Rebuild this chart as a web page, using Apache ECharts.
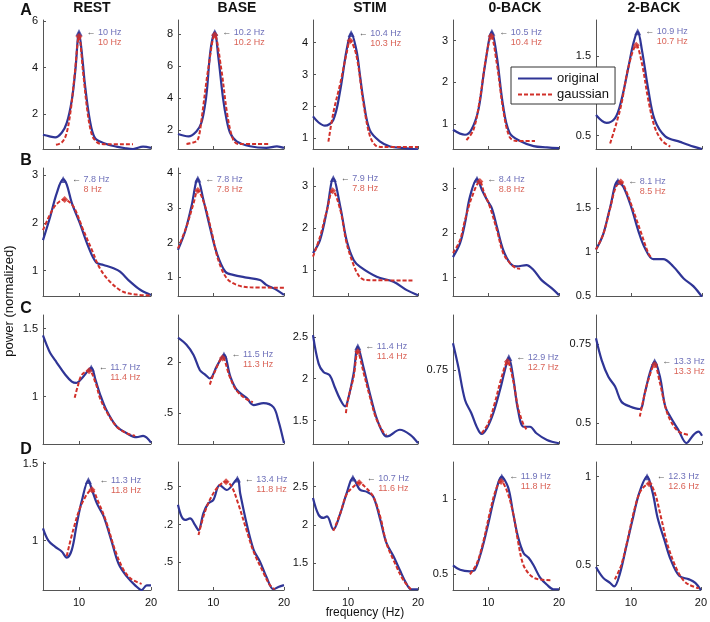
<!DOCTYPE html>
<html><head><meta charset="utf-8">
<script src="https://cdn.jsdelivr.net/npm/echarts@6/dist/echarts.min.js"></script>
<style>html,body{margin:0;padding:0;background:#fff}#c{width:710px;height:622px}</style>
</head><body><div id="c"></div>
<script>
// ---------- categories / labels ----------
const conditions = ['REST', 'BASE', 'STIM', '0-BACK', '2-BACK'];
const rowLetters = ['A', 'B', 'C', 'D'];
const xTickValues = [10, 20];

// ---------- row A ----------
const REST_A_orig = [[5,1.11],[5.8,1.05],[6.7,1.0],[7.6,1.2],[8.3,1.62],[9,2.6],[9.5,3.9],[10,5.5],[10.5,4.3],[10.8,3.34],[11.5,1.75],[12.2,0.98],[13.4,0.76],[15.2,0.6],[16.5,0.53],[17.5,0.5],[18.9,0.6],[20,0.55]];
const REST_A_gauss = [[6.8,0.68],[7.6,0.78],[8.2,1.1],[8.8,2.05],[9.4,3.7],[10,5.33],[10.6,3.7],[11.2,2.05],[11.8,1.1],[12.4,0.82],[13,0.72],[14,0.7],[17.5,0.7]];
const BASE_A_orig = [[5,1.75],[6.5,1.6],[7.6,1.91],[8.3,2.44],[8.8,3.5],[9.1,4.52],[9.6,7.0],[10.2,8.12],[10.7,6.6],[11.4,3.9],[11.9,2.6],[12.4,1.8],[13.3,1.29],[15.2,0.98],[17.5,0.88],[19,0.98],[20,0.88]];
const BASE_A_gauss = [[6.2,1.13],[7.6,1.3],[8.0,1.7],[8.4,2.9],[9.3,5.9],[10.2,7.96],[11.1,5.9],[12.0,2.9],[12.8,1.4],[13.5,1.13],[18,1.13]];
const STIM_A_orig = [[5,1.69],[5.8,1.5],[6.7,1.4],[7.9,1.58],[8.9,2.52],[9.8,3.77],[10.45,4.29],[11.2,3.77],[11.7,3.0],[12.2,2.21],[13.1,1.27],[14.6,0.9],[16,0.75],[17.9,0.7],[20,0.66]];
const STIM_A_gauss = [[7.2,0.9],[7.9,1.8],[8.9,2.73],[9.8,3.67],[10.3,4.06],[11.2,3.6],[12.2,2.1],[13.1,1.1],[13.9,0.79],[15,0.73],[20,0.73]];
const BACK0_A_orig = [[5,0.87],[6.7,0.75],[7.6,0.87],[8.6,1.35],[9.5,2.38],[10.5,3.2],[11.2,2.62],[12.1,1.43],[13,0.8],[14.5,0.6],[16.4,0.48],[18.3,0.45],[20,0.43]];
const BACK0_A_gauss = [[6.9,0.62],[7.9,0.87],[8.8,1.59],[9.7,2.62],[10.4,3.1],[11.2,2.45],[12.1,1.35],[13,0.7],[14,0.6],[16.6,0.6]];
const BACK2_A_orig = [[5,0.76],[6.5,0.66],[7.7,0.72],[8.6,0.95],[9.6,1.37],[10.3,1.67],[10.9,1.81],[11.5,1.58],[12.4,1.08],[13.3,0.7],[14.8,0.49],[16.9,0.42],[18.8,0.36],[20,0.33]];
const BACK2_A_gauss = [[7,0.4],[7.9,0.66],[8.6,0.9],[9.6,1.37],[10.7,1.64],[11.5,1.41],[12.4,0.95],[13.3,0.61],[14.3,0.44],[15.5,0.36]];

// ---------- row B ----------
const REST_B_orig = [[5,1.64],[6,2.13],[6.9,2.62],[7.8,2.91],[8.3,2.8],[9,2.42],[10.1,2.0],[11.3,1.5],[12.4,1.17],[13.4,1.12],[14.8,1.05],[15.7,0.98],[17.1,0.77],[18.5,0.6],[20,0.49]];
const REST_B_gauss = [[5,1.85],[6.4,2.3],[7.3,2.45],[8,2.49],[8.8,2.42],[9.4,2.3],[10.6,1.85],[11.8,1.43],[12.9,1.05],[14.3,0.77],[16.1,0.56],[18,0.5],[20,0.48]];
const BASE_B_orig = [[5,1.79],[6,2.32],[6.9,3.04],[7.8,3.83],[8.6,3.23],[9.5,2.46],[10.5,1.69],[11.7,1.16],[12.8,1.07],[14.7,0.99],[16.6,0.92],[17.5,0.78],[19,0.63],[20,0.49]];
const BASE_B_gauss = [[5,1.83],[6.2,2.46],[7.2,3.13],[7.8,3.5],[8.8,3.07],[9.8,2.27],[10.7,1.5],[11.9,0.97],[13.3,0.78],[15.2,0.71],[20,0.7]];
const STIM_B_orig = [[5,1.4],[6,1.71],[7,2.43],[7.9,3.18],[8.9,2.51],[9.8,1.71],[10.8,1.24],[11.7,1.08],[14.1,0.84],[16.5,0.72],[18.4,0.52],[20,0.4]];
const STIM_B_gauss = [[5,1.32],[6,1.79],[7,2.43],[7.8,2.89],[8.9,2.43],[9.8,1.64],[10.8,1.12],[11.6,0.85],[12.5,0.76],[19.4,0.75]];
const BACK0_B_orig = [[5,1.46],[6,1.77],[6.7,2.22],[7.4,2.81],[8.4,3.2],[9.1,2.96],[9.8,2.74],[10.5,2.55],[11.2,2.14],[12.1,1.62],[13.1,1.32],[14,1.25],[15.4,1.28],[16.4,1.17],[17.5,0.95],[19,0.76],[20,0.61]];
const BACK0_B_gauss = [[5,1.55],[6,1.84],[6.7,2.29],[7.7,2.81],[8.8,3.15],[9.4,2.9],[10.2,2.59],[11.2,2.07],[12.1,1.55],[13.1,1.32],[14,1.21],[14.5,1.2]];
const BACK2_B_orig = [[5,1.03],[6,1.2],[7,1.51],[8.1,1.81],[8.9,1.74],[10,1.51],[11,1.24],[11.9,1.05],[13.1,0.92],[14.5,0.92],[15.9,0.84],[17.4,0.7],[18.8,0.61],[20,0.49]];
const BACK2_B_gauss = [[5,1.03],[6,1.2],[7,1.5],[7.8,1.74],[8.5,1.8],[9.4,1.67],[10.3,1.47],[11.3,1.24],[12.4,0.99],[12.9,0.93]];

// ---------- row C ----------
const REST_C_orig = [[5,1.45],[5.5,1.38],[6,1.32],[6.9,1.25],[8.1,1.16],[9.0,1.11],[9.6,1.10],[10.5,1.14],[11.7,1.21],[12.3,1.12],[12.9,1.02],[13.8,0.9],[15.2,0.78],[16.6,0.73],[18,0.7],[18.9,0.71],[20,0.66]];
const REST_C_gauss = [[9.4,0.99],[9.8,1.07],[10.4,1.16],[11.4,1.19],[12.3,1.1],[12.9,0.99],[13.8,0.89],[15.2,0.78],[16.6,0.73],[17.8,0.71]];
const BASE_C_orig = [[5,2.24],[6.2,2.17],[7.2,2.07],[8.1,1.92],[8.8,1.88],[9.5,1.84],[10.5,1.96],[11.5,2.07],[12.4,1.86],[13.3,1.73],[14.7,1.65],[15.7,1.58],[17.1,1.6],[18.5,1.56],[19.2,1.43],[20,1.21]];
const BASE_C_gauss = [[9.5,1.78],[10.1,1.89],[11.3,2.04],[12.3,1.86],[13.2,1.73],[14.4,1.65],[15.6,1.61]];
const STIM_C_orig = [[5,2.52],[5.8,2.18],[6.5,2.08],[7.4,2.04],[8.1,1.9],[8.9,1.75],[9.6,1.67],[10.0,1.75],[10.8,2.06],[11.4,2.38],[12.2,2.14],[13.1,1.83],[14,1.55],[15,1.35],[15.6,1.31],[17.4,1.39],[18.9,1.33],[20,1.23]];
const STIM_C_gauss = [[9.7,1.59],[10.0,1.75],[10.8,2.02],[11.4,2.32],[12.2,2.08],[13.1,1.79],[14,1.53],[15,1.37],[15.5,1.33]];
const BACK0_C_orig = [[5,0.857],[5.75,0.763],[6.7,0.63],[7.6,0.577],[8.35,0.523],[9.05,0.494],[9.8,0.517],[10.7,0.577],[11.65,0.67],[12.35,0.75],[12.9,0.8],[13.5,0.723],[14.2,0.59],[15,0.523],[15.9,0.523],[16.8,0.497],[18.3,0.47],[20,0.457]];
const BACK0_C_gauss = [[9.05,0.497],[10,0.537],[10.9,0.617],[11.9,0.723],[12.7,0.783],[13.5,0.71],[14.2,0.6],[15,0.53],[15.4,0.513]];
const BACK2_C_orig = [[5,0.769],[5.8,0.70],[6.75,0.647],[7.7,0.616],[8.6,0.568],[9.8,0.553],[11.2,0.545],[11.9,0.595],[12.6,0.658],[13.3,0.695],[14.05,0.647],[14.8,0.553],[15.5,0.521],[16.65,0.479],[17.8,0.437],[18.8,0.463],[19.5,0.473],[20,0.46]];
const BACK2_C_gauss = [[11.2,0.521],[11.7,0.574],[12.4,0.637],[13.3,0.685],[14.05,0.627],[14.8,0.553],[15.5,0.51],[16.65,0.474],[18.1,0.463]];

// ---------- row D ----------
const REST_D_orig = [[5,1.08],[5.75,1.0],[6.7,0.96],[7.6,0.93],[8.3,0.89],[9,0.94],[9.7,1.11],[10.4,1.26],[11.3,1.39],[11.8,1.33],[12.5,1.24],[13.4,1.16],[14.5,1.0],[15.5,0.85],[16.6,0.77],[17.8,0.71],[18.7,0.68],[19.4,0.71],[20,0.71]];
const REST_D_gauss = [[8.3,0.9],[9.2,1.07],[10.4,1.24],[11.8,1.33],[12.6,1.26],[13.8,1.12],[15,0.94],[16.2,0.81],[17.3,0.75],[18.7,0.72]];
const BASE_D_orig = [[5,2.52],[5.5,2.21],[6,2.12],[6.7,2.16],[7.4,1.99],[7.9,1.85],[8.6,2.3],[9.3,2.56],[10,2.65],[10.9,3.04],[11.9,2.91],[13.4,3.2],[13.8,2.82],[14.7,2.03],[15.7,1.33],[16.6,1.02],[17.5,0.62],[18.5,0.29],[19.2,0.35],[20,0.4]];
const BASE_D_gauss = [[7.9,1.72],[8.6,2.21],[9.5,2.65],[10.7,3.0],[11.8,3.13],[12.6,3.0],[13.5,2.56],[14.7,1.85],[15.7,1.28],[16.9,0.8],[18,0.4],[18.7,0.29]];
const STIM_D_orig = [[5,2.35],[5.8,2.13],[6.5,2.09],[7,2.11],[7.9,1.94],[8.9,2.15],[9.8,2.41],[10.7,2.61],[11.7,2.46],[12.7,2.43],[13.6,2.37],[14.6,2.07],[15.5,1.76],[16.5,1.59],[17.4,1.41],[18.3,1.24],[19,1.16],[20,1.16]];
const STIM_D_gauss = [[7.9,1.92],[8.9,2.15],[9.8,2.4],[10.8,2.5],[11.6,2.55],[12.6,2.48],[13.6,2.37],[14.6,2.11],[15.5,1.76],[16.7,1.5],[17.9,1.28],[19,1.16]];
const BACK0_D_orig = [[5,0.56],[6,0.53],[7.4,0.52],[8.1,0.53],[9.05,0.66],[10,0.84],[10.9,1.02],[11.9,1.15],[12.8,1.08],[13.5,0.91],[14.2,0.75],[15,0.64],[15.7,0.61],[16.4,0.56],[17.3,0.48],[18.3,0.43],[19.2,0.4],[20,0.4]];
const BACK0_D_gauss = [[7.4,0.5],[8.35,0.57],[9.3,0.72],[10.2,0.91],[11.1,1.07],[11.8,1.12],[12.6,1.06],[13.5,0.91],[14.2,0.72],[14.9,0.57],[15.8,0.5],[16.8,0.47],[18.9,0.46]];
const BACK2_D_orig = [[5,0.49],[6,0.43],[7,0.4],[7.6,0.38],[8.4,0.45],[9.3,0.6],[10.3,0.77],[11.2,0.91],[12.3,1.0],[13.1,0.91],[13.8,0.77],[14.8,0.64],[15.7,0.53],[16.9,0.44],[18.3,0.42],[19.2,0.4],[20,0.36]];
const BACK2_D_gauss = [[7.7,0.42],[8.6,0.5],[9.5,0.64],[10.4,0.8],[11.4,0.92],[12.6,0.96],[13.4,0.91],[14.3,0.77],[15.2,0.62],[16.4,0.49],[17.4,0.42],[18.3,0.39],[19.7,0.37]];

// ---------- peak frequency labels ----------
const peakTextOrig = [
  ['10 Hz','10.2 Hz','10.4 Hz','10.5 Hz','10.9 Hz'],
  ['7.8 Hz','7.8 Hz','7.9 Hz','8.4 Hz','8.1 Hz'],
  ['11.7 Hz','11.5 Hz','11.4 Hz','12.9 Hz','13.3 Hz'],
  ['11.3 Hz','13.4 Hz','10.7 Hz','11.9 Hz','12.3 Hz']];
const peakTextGauss = [
  ['10 Hz','10.2 Hz','10.3 Hz','10.4 Hz','10.7 Hz'],
  ['8 Hz','7.8 Hz','7.8 Hz','8.8 Hz','8.5 Hz'],
  ['11.4 Hz','11.3 Hz','11.4 Hz','12.7 Hz','13.3 Hz'],
  ['11.8 Hz','11.8 Hz','11.6 Hz','11.8 Hz','12.6 Hz']];

// ---------- y axes: ranges, ticks, tick texts ----------
const yMin = [[0.5,0.81,0.67,0.41,0.33],[0.47,0.46,0.38,0.59,0.5],[0.65,1.2,1.22,0.454,0.434],[0.68,0.27,1.15,0.395,0.36]];
const yMax = [[6.04,8.9,4.71,3.49,1.96],[3.15,4.15,3.43,3.45,1.96],[1.6,2.46,2.76,0.97,0.843],[1.51,3.65,2.82,1.25,1.083]];
const yTicks = [
  [[2,4,6],[2,4,6,8],[1,2,3,4],[1,2,3],[0.5,1.5]],
  [[1,2,3],[1,2,3,4],[1,2,3],[1,2,3],[0.5,1,1.5]],
  [[1,1.5],[1.5,2],[1.5,2,2.5],[0.75],[0.5,0.75]],
  [[1,1.5],[1,2,3],[1.5,2,2.5],[0.5,1],[0.5,1]]];
const yTickText = [
  [null,null,null,null,null],
  [null,null,null,null,null],
  [null,['.5','2'],null,null,null],
  [null,['.5','.2','.5'],null,null,null]];

const origCurves = [
  [REST_A_orig, BASE_A_orig, STIM_A_orig, BACK0_A_orig, BACK2_A_orig],
  [REST_B_orig, BASE_B_orig, STIM_B_orig, BACK0_B_orig, BACK2_B_orig],
  [REST_C_orig, BASE_C_orig, STIM_C_orig, BACK0_C_orig, BACK2_C_orig],
  [REST_D_orig, BASE_D_orig, STIM_D_orig, BACK0_D_orig, BACK2_D_orig]];
const gaussCurves = [
  [REST_A_gauss, BASE_A_gauss, STIM_A_gauss, BACK0_A_gauss, BACK2_A_gauss],
  [REST_B_gauss, BASE_B_gauss, STIM_B_gauss, BACK0_B_gauss, BACK2_B_gauss],
  [REST_C_gauss, BASE_C_gauss, STIM_C_gauss, BACK0_C_gauss, BACK2_C_gauss],
  [REST_D_gauss, BASE_D_gauss, STIM_D_gauss, BACK0_D_gauss, BACK2_D_gauss]];

// ---------- layout ----------
const colLeft = [43, 178, 313, 453, 596];
const colWidth = [108, 106, 105, 106, 106];
const rowTop = [20, 168, 315, 462];
const rowHeight = [129, 128, 129, 128];
const titleX = [92, 237, 370, 515, 654];
const letterY = [11, 161, 309, 450];

const FONT = 'Liberation Sans, Arial, Helvetica, sans-serif';
const BLUE = '#2f3596';
const RED = '#d1302a';
const BLUE_TXT = '#4a4ca8';
const RED_TXT = '#cf3a2b';
const AXIS = '#555';

// the marked peak is the curve point nearest the labelled peak frequency
function peakOf(arr, label) {
  const f = parseFloat(label);
  let best = arr[0];
  for (const p of arr) if (Math.abs(p[0] - f) < Math.abs(best[0] - f)) best = p;
  return best;
}

const option = {
  animation: false,
  backgroundColor: '#fff',
  textStyle: { fontFamily: FONT },
  grid: [], xAxis: [], yAxis: [], series: [], graphic: [],
  legend: {
    data: ['original', 'gaussian'],
    orient: 'vertical', left: 511, top: 67,
    itemWidth: 34, itemHeight: 14, itemGap: 3,
    padding: [5, 6, 3, 6],
    borderColor: '#333', borderWidth: 1, backgroundColor: '#fff',
    selectedMode: false, z: 20,
    itemStyle: { opacity: 0 },
    textStyle: { fontSize: 13, color: '#111', fontFamily: FONT }
  }
};

for (let r = 0; r < 4; r++) {
  for (let c = 0; c < 5; c++) {
    const idx = r * 5 + c;
    option.grid.push({ left: colLeft[c], top: rowTop[r], width: colWidth[c], height: rowHeight[r] });
    option.xAxis.push({
      gridIndex: idx, type: 'value', min: 5, max: 20,
      axisLine: { show: true, onZero: false, lineStyle: { color: AXIS, width: 1 } },
      axisTick: { show: true, inside: true, length: 3, customValues: xTickValues, lineStyle: { color: AXIS } },
      axisLabel: { show: r === 3, customValues: xTickValues, fontSize: 11, color: '#111', margin: 7, fontFamily: FONT },
      splitLine: { show: false }
    });
    const ticks = yTicks[r][c];
    const texts = yTickText[r][c];
    option.yAxis.push({
      gridIndex: idx, type: 'value', min: yMin[r][c], max: yMax[r][c],
      axisLine: { show: true, onZero: false, lineStyle: { color: AXIS, width: 1 } },
      axisTick: { show: true, inside: true, length: 3, customValues: ticks, lineStyle: { color: AXIS } },
      axisLabel: {
        customValues: ticks, fontSize: 11, color: '#111', margin: 5, fontFamily: FONT,
        formatter: function (v) {
          if (texts) { const i = ticks.findIndex(t => Math.abs(t - v) < 1e-9); if (i >= 0) return texts[i]; }
          return String(v);
        }
      },
      splitLine: { show: false }
    });
    const orig = origCurves[r][c];
    const gauss = gaussCurves[r][c];
    option.series.push({
      name: 'original', type: 'line', xAxisIndex: idx, yAxisIndex: idx, data: orig,
      smooth: 0.35, showSymbol: false, symbol: 'none', z: 2,
      lineStyle: { color: BLUE, width: 2.2 }, itemStyle: { color: BLUE }
    });
    option.series.push({
      name: 'gaussian', type: 'line', xAxisIndex: idx, yAxisIndex: idx, data: gauss,
      smooth: 0.35, showSymbol: false, symbol: 'none', z: 3,
      lineStyle: { color: RED, width: 2, type: [4, 2] }, itemStyle: { color: RED }
    });
    const po = peakOf(orig, peakTextOrig[r][c]), pg = peakOf(gauss, peakTextGauss[r][c]);
    option.series.push({
      name: 'peakOrig', type: 'scatter', xAxisIndex: idx, yAxisIndex: idx, data: [po],
      symbol: 'triangle', symbolSize: 7, z: 4, itemStyle: { color: BLUE }
    });
    option.series.push({
      name: 'peakGauss', type: 'scatter', xAxisIndex: idx, yAxisIndex: idx, data: [pg],
      symbol: 'diamond', symbolSize: 7, z: 5, itemStyle: { color: RED }
    });
    const anchor = [Math.max(po[0], pg[0]), po[1]];
    option.series.push({
      name: 'peakLabel', type: 'scatter', xAxisIndex: idx, yAxisIndex: idx, data: [anchor],
      symbolSize: 1, z: 6, itemStyle: { color: 'rgba(0,0,0,0)' }, silent: true,
      label: {
        show: true, position: 'right', distance: 7, offset: [0, 5],
        formatter: '{a|\u2190 }{b|' + peakTextOrig[r][c] + '}\n{h|\u2190 }{g|' + peakTextGauss[r][c] + '}',
        rich: {
          a: { color: '#333', fontSize: 9, lineHeight: 10, fontFamily: FONT },
          b: { color: BLUE_TXT, fontSize: 9, lineHeight: 10, fontFamily: FONT },
          h: { color: 'rgba(0,0,0,0)', fontSize: 9, lineHeight: 10, fontFamily: FONT },
          g: { color: RED_TXT, fontSize: 9, lineHeight: 10, fontFamily: FONT }
        }
      }
    });
  }
}

function txt(x, y, text, font, extra) {
  return Object.assign({
    type: 'text', x: x, y: y, z: 30,
    style: { text: text, font: font, fill: '#111', textAlign: 'center', align: 'center',
             textVerticalAlign: 'middle', verticalAlign: 'middle' }
  }, extra || {});
}
conditions.forEach((name, c) => option.graphic.push(txt(titleX[c], 8, name, 'bold 14px ' + FONT)));
rowLetters.forEach((L, r) => option.graphic.push(txt(26, letterY[r], L, 'bold 16px ' + FONT)));
option.graphic.push(txt(9, 301, 'power (normalized)', '13px ' + FONT, { rotation: Math.PI / 2 }));
option.graphic.push(txt(365, 613, 'frequency (Hz)', '12px ' + FONT));

const chart = echarts.init(document.getElementById('c'), null, { renderer: 'canvas' });
chart.setOption(option);
</script>
</body></html>
